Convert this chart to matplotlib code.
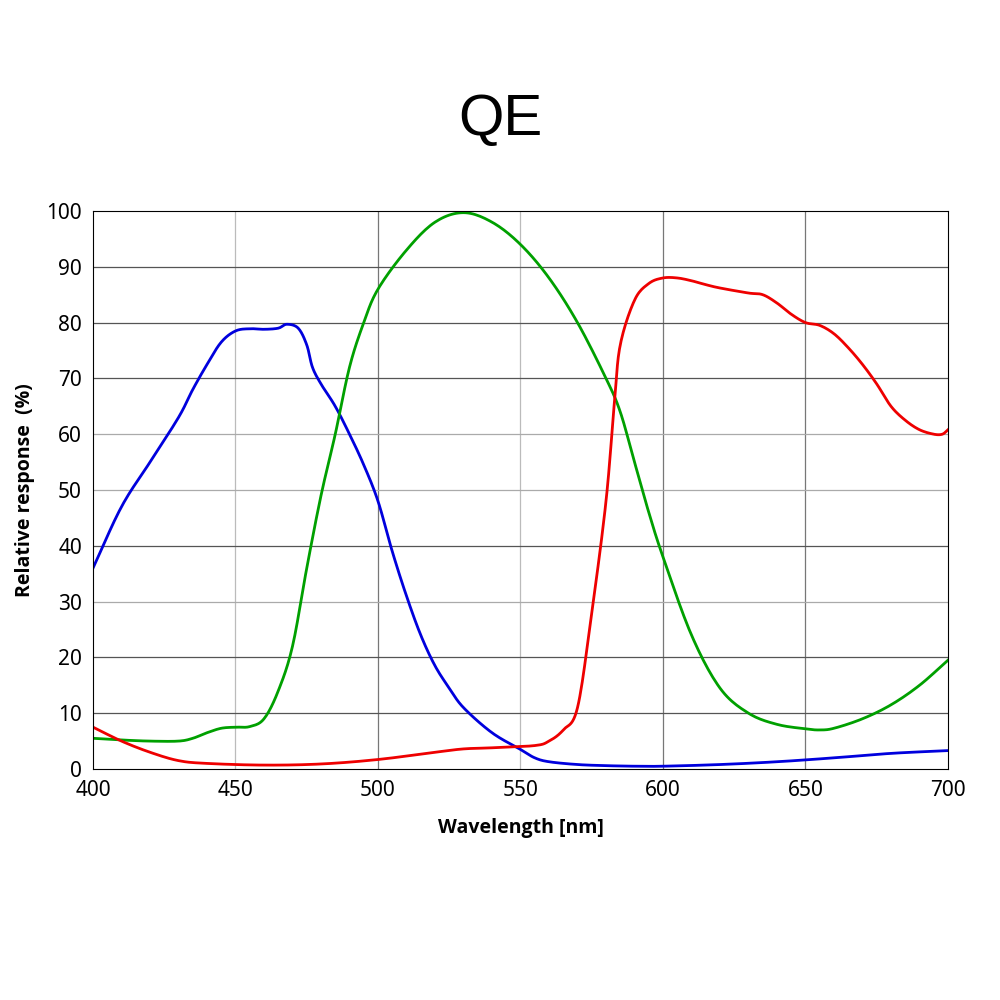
import matplotlib
matplotlib.use("Agg")
import matplotlib.pyplot as plt
import numpy as np

blue_x = [400,410,420,430,435,440,445,450,455,460,465,468,472,475,477,480,485,490,495,500,505,510,515,520,525,530,540,550,555,560,570,580,590,600,620,640,660,680,700]
blue_y = [36,47,55,63,68,72.5,76.5,78.5,78.9,78.8,79,79.7,79,76,72,69,65,60,54.5,48,39,31,24,18.5,14.5,11,6.5,3.5,2,1.3,0.8,0.6,0.5,0.5,0.8,1.3,2,2.8,3.3]
green_x = [400,410,420,430,435,440,445,450,455,460,465,470,475,480,485,490,495,500,510,520,530,540,550,560,570,580,585,590,595,600,610,620,630,640,650,655,660,670,680,690,700]
green_y = [5.5,5.2,5,5,5.5,6.5,7.3,7.5,7.6,9,14,22,36,49,60,72,80,86,93,98,99.7,98,94,88,80,70,64,55,46,38,24,14.5,10,8,7.2,7,7.3,9,11.5,15,19.5]
red_x = [400,410,420,430,440,460,480,500,520,530,540,555,560,565,570,575,580,583,585,590,595,600,605,610,615,620,630,635,640,645,650,655,660,665,670,675,680,685,690,695,698,700]
red_y = [7.5,5,3,1.5,1,0.7,0.9,1.7,3,3.6,3.8,4.2,5,7,11,28,48,66,76,84,87,88,88,87.5,86.8,86.2,85.3,85,83.5,81.5,80,79.5,78,75.5,72.5,69,65,62.5,60.8,60,60,60.8]

xticks = [400,450,500,550,600,650,700]
yticks = list(range(0,101,10))

def smooth(x, y, n=12):
    # monotone-ish Catmull-Rom (centripetal-free, param by index) for drawing only
    x = np.asarray(x, float); y = np.asarray(y, float)
    P = np.column_stack([x, y])
    P = np.vstack([2*P[0]-P[1], P, 2*P[-1]-P[-2]])
    out = []
    t = np.linspace(0, 1, n, endpoint=False)[:, None]
    for i in range(1, len(P)-2):
        p0, p1, p2, p3 = P[i-1], P[i], P[i+1], P[i+2]
        seg = 0.5*((2*p1) + (-p0+p2)*t + (2*p0-5*p1+4*p2-p3)*t**2 + (-p0+3*p1-3*p2+p3)*t**3)
        out.append(seg)
    out.append(P[-2][None, :])
    out = np.vstack(out)
    return out[:, 0], out[:, 1]

fig = plt.figure(figsize=(10,10), dpi=100)
ax = fig.add_axes([0.093,0.231,0.855,0.558])
for x in xticks[1:-1]:
    ax.axvline(x, color="#777777" if x in (500,600,650) else "#bbbbbb", lw=0.9, zorder=0)
for y in yticks[1:-1]:
    ax.axhline(y, color="#555555" if y in (10,20,40,70,80,90) else "#aaaaaa", lw=0.9, zorder=0)
for xs, ys, c in [(blue_x, blue_y, "#0000dd"), (green_x, green_y, "#00a000"), (red_x, red_y, "#ee0000")]:
    sx, sy = smooth(xs, ys)
    ax.plot(sx, sy, color=c, lw=2)
ax.set_xlim(400,700); ax.set_ylim(0,100)
ax.set_xticks(xticks); ax.set_yticks(yticks)
for lab in ax.get_xticklabels()+ax.get_yticklabels():
    lab.set_fontfamily("Noto Sans"); lab.set_fontsize(15)
ax.tick_params(length=0, pad=8)
ax.set_xlabel("Wavelength [nm]", fontsize=14, fontweight="bold", fontfamily="Open Sans", labelpad=12)
ax.set_ylabel("Relative response  (%)", fontsize=14, fontweight="bold", fontfamily="Open Sans", labelpad=8)
fig.text(0.5, 0.88, "QE", ha="center", va="center", fontsize=42, fontfamily="Liberation Sans")
fig.savefig("out.png")
